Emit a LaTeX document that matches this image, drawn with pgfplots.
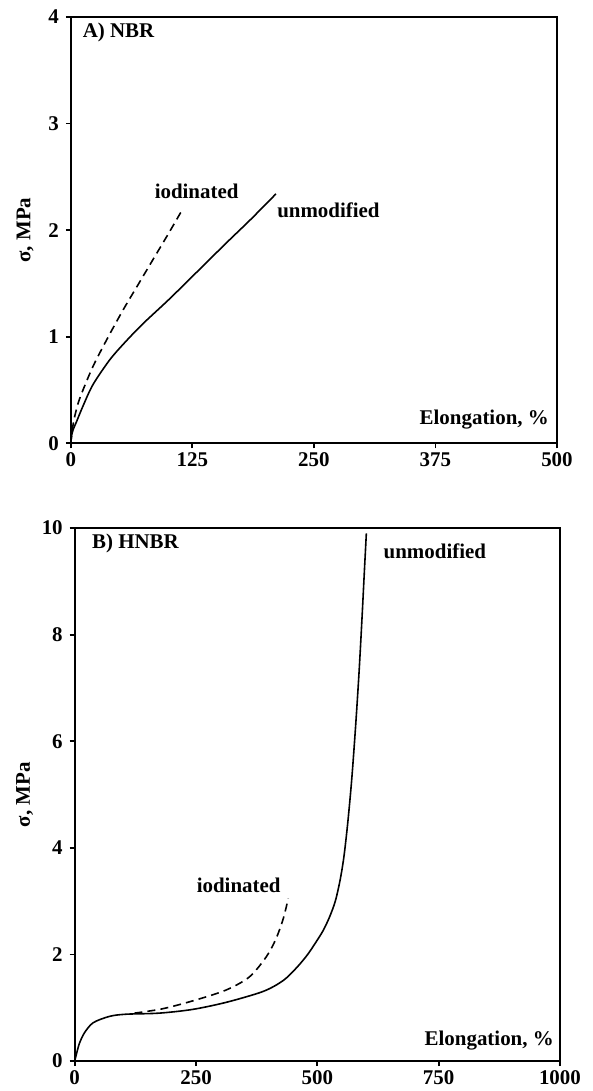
\documentclass[border=0pt]{standalone}
\usepackage{fontspec}
\setmainfont{Liberation Serif}
\usepackage{pgfplots}
\pgfplotsset{compat=1.18}

\pgfplotsset{
    every axis/.append style={
        scale only axis,
        clip=false,
        axis line style={line width=1.1pt},
        tick style={line width=0.9pt, black},
        tick align=outside,
        major tick length=2.5pt,
        tick pos=left,
        tick label style={font=\fontsize{10.5}{12}\selectfont\bfseries},
        xticklabel style={yshift=1.5pt},
        label style={font=\fontsize{10.5}{12}\selectfont\bfseries},
        /pgf/number format/assume math mode=true,
        /pgf/number format/1000 sep={},
        ylabel={σ, MPa},
    },
}
\tikzset{
    txt/.style={font=\fontsize{10.5}{12}\selectfont\bfseries, inner sep=0pt},
    unmod/.style={black, line width=0.8pt, smooth},
    iodo/.style={black, line width=0.8pt, smooth, dash pattern=on 4pt off 2.6pt},
}

\begin{document}
\begin{tikzpicture}
\useasboundingbox (-35.5pt,-325pt) rectangle (262pt,222.5pt);

% A) NBR
\begin{axis}[
    at={(0,0)}, anchor=south west,
    width=244pt, height=214pt,
    xmin=0, xmax=500, ymin=0, ymax=4,
    xtick={0,125,250,375,500},
    ytick={0,1,2,3,4},
    ylabel style={at={(axis description cs:-0.094,0.5)}, anchor=center},
    ]
    \addplot[unmod] coordinates {
        (0,0) (1,0.08) (2.5,0.13) (5.8,0.2) (12.6,0.35) (22.8,0.55)
        (39.8,0.78) (55,0.94) (74,1.12) (101,1.35) (130,1.61)
        (160,1.88) (185,2.1) (211,2.34)
    };
    \addplot[iodo] coordinates {
        (0,0) (2,0.15) (4,0.25) (9.2,0.42) (22.8,0.72) (39.8,1.02)
        (55,1.27) (70,1.5) (83,1.70) (100,1.96) (114,2.18)
    };
    \node[txt, anchor=west] at (axis cs:12,3.85) {A) NBR};
    \node[txt, anchor=west] at (axis cs:86,2.36) {iodinated};
    \node[txt, anchor=west] at (axis cs:212,2.19) {unmodified};
    \node[txt, anchor=east] at (axis cs:492,0.22) {Elongation, \%};
\end{axis}

% B) HNBR
\begin{axis}[
    at={(2pt,-310pt)}, anchor=south west,
    width=243.5pt, height=267.5pt,
    xmin=0, xmax=1000, ymin=0, ymax=10,
    xtick={0,250,500,750,1000},
    ytick={0,2,4,6,8,10},
    ylabel style={at={(axis description cs:-0.103,0.5)}, anchor=center},
    ]
    \addplot[unmod] coordinates {
        (0,0) (4,0.15) (10,0.34) (20,0.53) (38,0.72) (72,0.84)
        (106,0.88) (174,0.9) (243,0.97) (311,1.1) (380,1.28)
        (410,1.4) (435,1.55) (460,1.78) (480,2.0) (497,2.23)
        (512,2.45) (525,2.7) (537,3.0) (547,3.4) (555,3.85)
        (563,4.5) (571,5.3) (579,6.3) (586,7.3) (592,8.3)
        (597,9.2) (601,9.9)
    };
    \addplot[iodo] coordinates {
        (123,0.9) (180,0.98) (243,1.13) (311,1.33) (360,1.58)
        (395,1.96) (415,2.3) (430,2.68) (440,3.05)
    };
    \node[txt, anchor=west] at (axis cs:35,9.72) {B) HNBR};
    \node[txt, anchor=west] at (axis cs:636,9.57) {unmodified};
    \node[txt, anchor=east] at (axis cs:425,3.3) {iodinated};
    \node[txt, anchor=east] at (axis cs:988,0.38) {Elongation, \%};
\end{axis}
\end{tikzpicture}
\end{document}
